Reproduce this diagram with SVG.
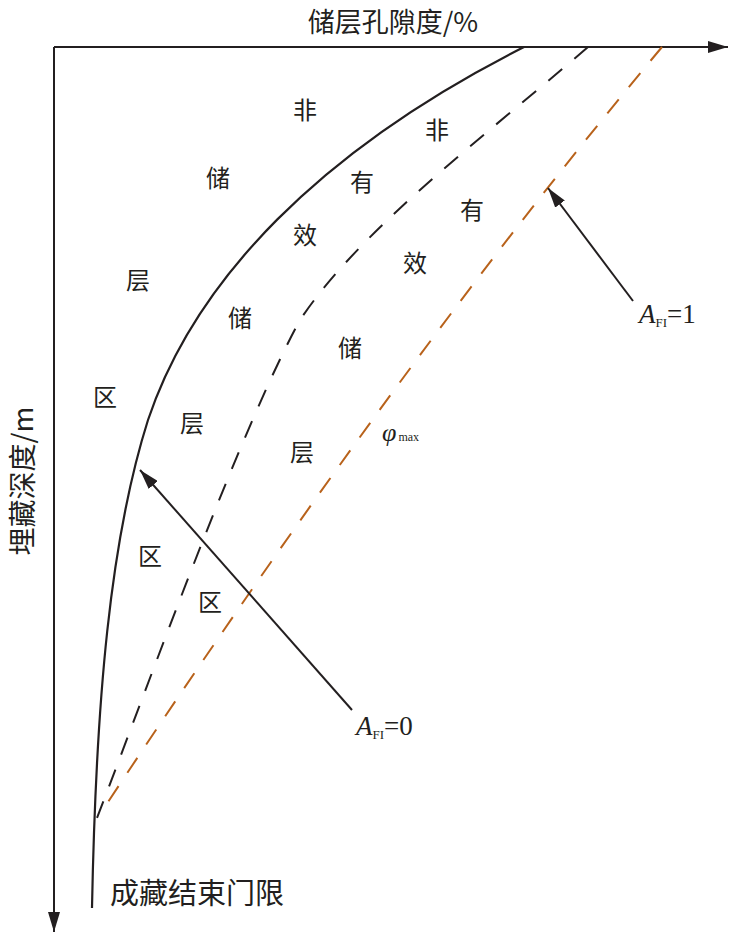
<svg xmlns="http://www.w3.org/2000/svg" width="734" height="938" viewBox="0 0 734 938">
<defs>
<marker id="ah2" viewBox="0 0 20 12" refX="20" refY="6" markerWidth="20" markerHeight="12" markerUnits="userSpaceOnUse" orient="auto"><path d="M0,0 L20,6 L0,12 z" fill="#231f20"/></marker>
<style>
.cn{font-family:"Noto Sans CJK SC","Liberation Sans",sans-serif;font-size:24px;fill:#231f20;text-anchor:middle}
.lbl{font-family:"Liberation Serif",serif;fill:#231f20}
.ax{stroke:#231f20;stroke-width:2;fill:none}
</style>
</defs>
<g id="axes">
<path class="ax" d="M54,47 L728,47" marker-end="url(#ah2)"/>
<path class="ax" d="M54,47 L54,932" marker-end="url(#ah2)"/>
</g>
<g id="connectors" fill="none">
<path d="M524,47 C 320,150 195,280 148,420 C 110,540 96,700 92,908" stroke="#231f20" stroke-width="2.2"/>
<path d="M588,47 C 480,140 360,230 300,320 C 240,430 150,680 97,818" stroke="#231f20" stroke-width="2" stroke-dasharray="18,16"/>
<path d="M662,47 Q 400,360 106,805" stroke="#b8621b" stroke-width="2" stroke-dasharray="18,16"/>
<path d="M352,710 L140,470" stroke="#231f20" stroke-width="2" marker-end="url(#ah2)"/>
<path d="M633,301 L548,188" stroke="#231f20" stroke-width="2" marker-end="url(#ah2)"/>
</g>
<g id="title"><text class="cn" x="393" y="32" style="font-size:27px">储层孔隙度/%</text></g>
<g id="ylabel"><text class="cn" style="font-size:28px" transform="translate(33,481) rotate(-90)">埋藏深度/m</text></g>
<g id="zone1">
<text class="cn" x="305" y="119">非</text>
<text class="cn" x="218" y="187">储</text>
<text class="cn" x="138" y="289">层</text>
<text class="cn" x="105" y="406">区</text>
</g>
<g id="zone2">
<text class="cn" x="362" y="191">有</text>
<text class="cn" x="305" y="244">效</text>
<text class="cn" x="240" y="327">储</text>
<text class="cn" x="192" y="432">层</text>
<text class="cn" x="150" y="565">区</text>
</g>
<g id="zone3">
<text class="cn" x="437" y="139">非</text>
<text class="cn" x="472" y="219">有</text>
<text class="cn" x="415" y="272">效</text>
<text class="cn" x="350" y="357">储</text>
<text class="cn" x="302" y="461">层</text>
<text class="cn" x="210" y="611">区</text>
</g>
<g id="phimax"><text class="lbl" x="382" y="441"><tspan font-style="italic" font-size="26">φ</tspan><tspan font-size="12" dx="2">max</tspan></text></g>
<g id="afi1"><text class="lbl" x="639" y="323"><tspan font-style="italic" font-size="27">A</tspan><tspan font-size="13" dy="4">FI</tspan><tspan font-size="27" dy="-4">=1</tspan></text></g>
<g id="afi0"><text class="lbl" x="356" y="735"><tspan font-style="italic" font-size="27">A</tspan><tspan font-size="13" dy="4">FI</tspan><tspan font-size="27" dy="-4">=0</tspan></text></g>
<g id="threshold"><text class="cn" x="110" y="904" style="font-size:29px;text-anchor:start">成藏结束门限</text></g>
</svg>
